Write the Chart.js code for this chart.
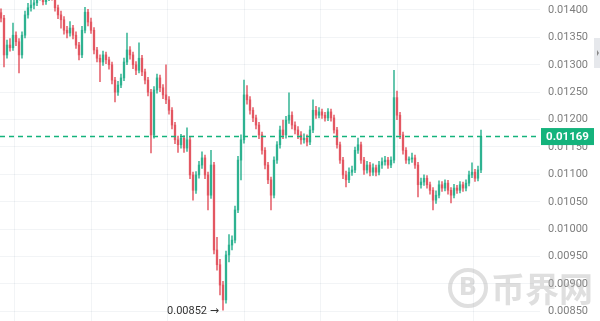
<!DOCTYPE html>
<html>
<head>
<meta charset="utf-8">
<script src="https://cdn.jsdelivr.net/npm/chart.js@4.4.1/dist/chart.umd.min.js"></script>
<style>
html,body{margin:0;padding:0;background:#fff;}
#wrap{width:600px;height:321px;position:relative;}
</style>
</head>
<body>
<div id="wrap"><canvas id="c" width="600" height="321"></canvas></div>
<script>
// ---- data ----
const opens = [0.01395,0.01385,0.01318,0.01336,0.01331,0.01354,0.01342,0.01318,0.01354,0.01391,
0.01404,0.01409,0.01413,0.01424,0.01427,0.01415,0.01422,0.01429,0.01424,0.01404,
0.01391,0.01382,0.01363,0.01358,0.01367,0.01354,0.01336,0.01318,0.01363,0.01396,
0.01378,0.01363,0.01327,0.01312,0.01305,0.01318,0.01309,0.01300,0.01272,0.01250,
0.01263,0.01276,0.01305,0.01327,0.01318,0.01300,0.01290,0.01312,0.01287,0.01272,
0.01250,0.01172,0.01254,0.01276,0.01258,0.01245,0.01236,0.01217,0.01190,0.01163,
0.01154,0.01166,0.01148,0.01163,0.01099,0.01071,0.01099,0.01117,0.01130,0.01099,
0.01062,0.01117,0.00962,0.00935,0.00898,0.00871,0.00953,0.00971,0.00980,0.01035,
0.01126,0.01163,0.01245,0.01236,0.01217,0.01203,0.01190,0.01172,0.01144,0.01117,
0.01090,0.01062,0.01126,0.01154,0.01181,0.01172,0.01199,0.01208,0.01190,0.01181,
0.01172,0.01163,0.01166,0.01159,0.01181,0.01217,0.01208,0.01214,0.01208,0.01203,
0.01214,0.01203,0.01181,0.01154,0.01126,0.01099,0.01090,0.01104,0.01108,0.01144,
0.01154,0.01126,0.01108,0.01117,0.01104,0.01112,0.01104,0.01117,0.01123,0.01126,
0.01117,0.01126,0.01240,0.01208,0.01172,0.01144,0.01126,0.01128,0.01130,0.01117,
0.01081,0.01086,0.01093,0.01081,0.01071,0.01053,0.01062,0.01081,0.01075,0.01084,
0.01071,0.01062,0.01075,0.01071,0.01081,0.01075,0.01084,0.01099,0.01104,0.01093,
0.01108];
const closes = [0.01385,0.01318,0.01336,0.01331,0.01354,0.01342,0.01318,0.01354,0.01391,0.01404,
0.01409,0.01413,0.01424,0.01427,0.01415,0.01422,0.01429,0.01424,0.01404,0.01391,
0.01382,0.01363,0.01358,0.01367,0.01354,0.01336,0.01318,0.01363,0.01396,0.01378,
0.01363,0.01327,0.01312,0.01305,0.01318,0.01309,0.01300,0.01272,0.01250,0.01263,
0.01276,0.01305,0.01327,0.01318,0.01300,0.01290,0.01312,0.01287,0.01272,0.01250,
0.01172,0.01254,0.01276,0.01258,0.01245,0.01236,0.01217,0.01190,0.01163,0.01154,
0.01166,0.01148,0.01163,0.01099,0.01071,0.01099,0.01117,0.01130,0.01099,0.01062,
0.01117,0.00962,0.00935,0.00898,0.00871,0.00953,0.00971,0.00980,0.01035,0.01126,
0.01163,0.01245,0.01236,0.01217,0.01203,0.01190,0.01172,0.01144,0.01117,0.01090,
0.01062,0.01126,0.01154,0.01181,0.01172,0.01199,0.01208,0.01190,0.01181,0.01172,
0.01163,0.01166,0.01159,0.01181,0.01217,0.01208,0.01214,0.01208,0.01203,0.01214,
0.01203,0.01181,0.01154,0.01126,0.01099,0.01090,0.01104,0.01108,0.01144,0.01154,
0.01126,0.01108,0.01117,0.01104,0.01112,0.01104,0.01117,0.01123,0.01126,0.01117,
0.01126,0.01240,0.01208,0.01172,0.01144,0.01126,0.01128,0.01130,0.01117,0.01081,
0.01086,0.01093,0.01081,0.01071,0.01053,0.01062,0.01081,0.01075,0.01084,0.01071,
0.01062,0.01075,0.01071,0.01081,0.01075,0.01084,0.01099,0.01104,0.01093,0.01108,
0.01169];
const highs = [0.01402,0.01390,0.01345,0.01348,0.01376,0.01360,0.01348,0.01360,0.01398,0.01412,
0.01418,0.01422,0.01432,0.01435,0.01433,0.01430,0.01436,0.01435,0.01428,0.01409,
0.01398,0.01388,0.01370,0.01379,0.01372,0.01360,0.01341,0.01370,0.01405,0.01401,
0.01385,0.01368,0.01332,0.01318,0.01325,0.01323,0.01314,0.01305,0.01277,0.01270,
0.01283,0.01312,0.01358,0.01333,0.01323,0.01306,0.01340,0.01317,0.01292,0.01277,
0.01255,0.01260,0.01283,0.01281,0.01264,0.01300,0.01242,0.01222,0.01195,0.01170,
0.01173,0.01171,0.01185,0.01168,0.01104,0.01105,0.01124,0.01141,0.01135,0.01104,
0.01144,0.01122,0.00985,0.00945,0.00905,0.00960,0.00990,0.00988,0.01042,0.01133,
0.01172,0.01272,0.01262,0.01242,0.01222,0.01208,0.01195,0.01177,0.01149,0.01122,
0.01095,0.01132,0.01160,0.01188,0.01199,0.01206,0.01249,0.01214,0.01196,0.01187,
0.01178,0.01174,0.01172,0.01188,0.01236,0.01224,0.01222,0.01219,0.01213,0.01220,
0.01219,0.01208,0.01186,0.01159,0.01131,0.01106,0.01112,0.01115,0.01150,0.01166,
0.01159,0.01131,0.01124,0.01122,0.01119,0.01117,0.01124,0.01130,0.01133,0.01131,
0.01132,0.01290,0.01252,0.01213,0.01177,0.01149,0.01132,0.01139,0.01135,0.01122,
0.01093,0.01099,0.01098,0.01086,0.01076,0.01070,0.01088,0.01087,0.01090,0.01089,
0.01076,0.01082,0.01080,0.01087,0.01086,0.01090,0.01106,0.01121,0.01109,0.01115,
0.01181];
const lows = [0.01378,0.01296,0.01312,0.01325,0.01326,0.01335,0.01285,0.01312,0.01349,0.01385,
0.01398,0.01402,0.01408,0.01418,0.01409,0.01410,0.01417,0.01418,0.01398,0.01384,
0.01367,0.01356,0.01349,0.01352,0.01347,0.01330,0.01309,0.01313,0.01358,0.01371,
0.01357,0.01320,0.01305,0.01269,0.01299,0.01302,0.01292,0.01265,0.01232,0.01244,
0.01258,0.01271,0.01300,0.01310,0.01293,0.01282,0.01285,0.01280,0.01265,0.01243,
0.01139,0.01166,0.01248,0.01251,0.01238,0.01229,0.01210,0.01183,0.01156,0.01140,
0.01148,0.01140,0.01142,0.01092,0.01053,0.01065,0.01093,0.01111,0.01092,0.01035,
0.01056,0.00955,0.00925,0.00880,0.00852,0.00865,0.00940,0.00962,0.00975,0.01030,
0.01090,0.01157,0.01228,0.01210,0.01196,0.01183,0.01165,0.01137,0.01110,0.01083,
0.01035,0.01057,0.01120,0.01148,0.01165,0.01166,0.01193,0.01183,0.01174,0.01165,
0.01155,0.01157,0.01152,0.01154,0.01176,0.01202,0.01203,0.01202,0.01197,0.01198,
0.01197,0.01175,0.01148,0.01120,0.01092,0.01077,0.01085,0.01098,0.01103,0.01138,
0.01120,0.01100,0.01102,0.01097,0.01098,0.01097,0.01099,0.01111,0.01117,0.01111,
0.01112,0.01121,0.01200,0.01165,0.01137,0.01120,0.01119,0.01122,0.01111,0.01059,
0.01075,0.01080,0.01075,0.01064,0.01035,0.01047,0.01057,0.01069,0.01070,0.01064,
0.01048,0.01057,0.01065,0.01066,0.01069,0.01070,0.01079,0.01094,0.01087,0.01088,
0.01103];
const yTickValues = [0.0085,0.0090,0.0095,0.0100,0.0105,0.0110,0.0115,0.0120,0.0125,0.0130,0.0135,0.0140];
const lastPrice = 0.01169;
const lowPrice = 0.00852;
const lowIndex = 74;
const lowLabel = '0.00852 →';
const watermarkText = '币界网';

// ---- styling ----
const UP = 'rgba(38,175,140,0.85)';
const DOWN = 'rgba(226,80,92,0.85)';
const LINE = '#14b37c';
const colorFor = i => closes[i] >= opens[i] ? UP : DOWN;

const bodies = closes.map((c, i) => ({x: i, y: [opens[i], c]}));
const wicks = lows.map((l, i) => ({x: i, y: [l, highs[i]]}));

const overlay = {
  id: 'overlay',
  afterDatasetsDraw(chart) {
    const {ctx, chartArea, scales: {x, y}} = chart;
    const py = y.getPixelForValue(lastPrice);
    ctx.save();
    ctx.strokeStyle = LINE;
    ctx.lineWidth = 1.5;
    ctx.setLineDash([5, 4]);
    ctx.beginPath();
    ctx.moveTo(chartArea.left, py);
    ctx.lineTo(chartArea.right, py);
    ctx.stroke();
    ctx.setLineDash([]);
    ctx.fillStyle = '#333';
    ctx.font = '11px Roboto, "DejaVu Sans", sans-serif';
    ctx.textAlign = 'right';
    ctx.textBaseline = 'middle';
    ctx.fillText(lowLabel, x.getPixelForValue(lowIndex) - 4, y.getPixelForValue(lowPrice) + 1);
    ctx.restore();
  },
  afterDraw(chart) {
    const {ctx, chartArea, scales: {y}} = chart;
    const py = y.getPixelForValue(lastPrice);
    ctx.save();
    ctx.fillStyle = LINE;
    ctx.fillRect(chartArea.right + 1, py - 8.5, 53, 17);
    ctx.fillStyle = '#fff';
    ctx.font = 'bold 11.5px Roboto, "DejaVu Sans", sans-serif';
    ctx.textAlign = 'center';
    ctx.textBaseline = 'middle';
    ctx.fillText(lastPrice.toFixed(5), chartArea.right + 27.5, py + 0.5);
    ctx.fillStyle = '#e6e8ec';
    ctx.fillRect(594, 38, 6, 30);
    ctx.fillStyle = '#888';
    ctx.beginPath();
    ctx.moveTo(597, 50); ctx.lineTo(599, 53); ctx.lineTo(597, 56); ctx.closePath();
    ctx.fill();
    ctx.globalAlpha = 0.4;
    ctx.strokeStyle = '#b0b0b0';
    ctx.lineWidth = 4;
    ctx.beginPath();
    ctx.arc(468, 288, 18, 0, Math.PI * 2);
    ctx.stroke();
    ctx.fillStyle = '#b0b0b0';
    ctx.font = 'bold 24px "DejaVu Sans", sans-serif';
    ctx.textAlign = 'center';
    ctx.fillText('B', 468, 289);
    ctx.font = 'bold 34px "Noto Sans CJK SC", sans-serif';
    ctx.textAlign = 'left';
    ctx.fillText(watermarkText, 491, 289);
    ctx.restore();
  }
};

new Chart(document.getElementById('c'), {
  type: 'bar',
  data: {
    datasets: [
      {data: wicks, backgroundColor: ctx => colorFor(ctx.dataIndex), barThickness: 1, grouped: false, borderWidth: 0, order: 2},
      {data: bodies, backgroundColor: ctx => colorFor(ctx.dataIndex), barThickness: 1.7, minBarLength: 1, grouped: false, borderWidth: 0, order: 1}
    ]
  },
  options: {
    responsive: false,
    animation: false,
    devicePixelRatio: 1,
    layout: {padding: 0},
    plugins: {legend: {display: false}, tooltip: {enabled: false}},
    scales: {
      x: {
        type: 'linear',
        min: -0.3333,
        max: 179.6667,
        offset: false,
        grid: {color: 'rgba(40,60,110,0.06)', drawTicks: false},
        border: {display: false},
        ticks: {display: false},
        afterBuildTicks: s => { s.ticks = [17.33, 42.83, 68.33, 93.83, 119.33, 144.83, 170.33].map(v => ({value: v})); },
        afterFit: s => { s.height = 0; s.paddingLeft = 0; s.paddingRight = 0; s.paddingTop = 0; s.paddingBottom = 0; }
      },
      y: {
        position: 'right',
        min: 0.008324,
        max: 0.014182,
        grid: {color: 'rgba(40,60,110,0.06)', drawTicks: false},
        border: {display: false},
        afterBuildTicks: s => { s.ticks = yTickValues.map(v => ({value: v})); },
        afterFit: s => { s.width = 60; s.paddingTop = 0; s.paddingBottom = 0; },
        ticks: {
          padding: 8,
          color: '#7e7e7e',
          font: {family: 'Roboto, "DejaVu Sans", sans-serif', size: 11},
          callback: v => Number(v).toFixed(5)
        }
      }
    }
  },
  plugins: [overlay]
});
</script>
</body>
</html>
